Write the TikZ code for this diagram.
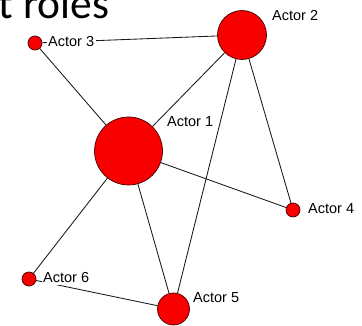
\documentclass[tikz,border=0pt]{standalone}
\usepackage{fontspec}
\setmainfont{Liberation Sans}
\newfontfamily\headingfont{Carlito}
\definecolor{actorred}{RGB}{248,0,0}
\definecolor{actoredge}{RGB}{70,0,0}
\definecolor{tiecolor}{RGB}{25,25,25}
\begin{document}
\begin{tikzpicture}[x=1pt,y=-1pt,
  actor/.style={circle,fill=actorred,draw=actoredge,line width=0.7pt,inner sep=0pt,minimum size=#1},
  tie/.style={draw=tiecolor,line width=0.85pt},
  tag/.style={fill=white,inner sep=1.5pt,anchor=base west,font=\fontsize{14.5}{16}\selectfont},
  heading/.style={anchor=base west,inner sep=0pt,font=\headingfont\fontsize{43.5}{46}\selectfont}]
  % canvas
  \fill[white] (0,0) rectangle (362,326);
  \useasboundingbox (0,0) rectangle (362,326);
  \clip (0,0) rectangle (362,326);

  % heading, partly outside the frame
  \node[heading] (title) at (-1.5,18.5) {t roles};

  % actors, sized by centrality
  \node[actor=49pt] (a2) at (242,35) {};
  \node[actor=14pt] (a3) at (35,43) {};
  \node[actor=68pt] (a1) at (128.5,151) {};
  \node[actor=14pt] (a4) at (293,210) {};
  \node[actor=14pt] (a6) at (29,279) {};
  \node[actor=32pt] (a5) at (173.5,309) {};

  % ties
  \draw[tie] (a1) -- (a2);
  \draw[tie] (a1) -- (a3);
  \draw[tie] (a1) -- (a4);
  \draw[tie] (a1) -- (a5);
  \draw[tie] (a1) -- (a6);
  \draw[tie] (a2) -- (a3);
  \draw[tie] (a2) -- (a4);
  \draw[tie] (a2) -- (a5);
  \draw[tie] (a5) -- (a6);

  % labels on white boxes over the ties
  \node[tag] (l2) at (270.5,21) {Actor 2};
  \node[tag] (l3) at (46.5,47) {Actor 3};
  \node[tag] (l1) at (165.5,127) {Actor 1};
  \node[tag] (l4) at (306.5,214) {Actor 4};
  \node[tag] (l6) at (41.5,283) {Actor 6};
  \node[tag] (l5) at (191.5,302) {Actor 5};
\end{tikzpicture}
\end{document}
